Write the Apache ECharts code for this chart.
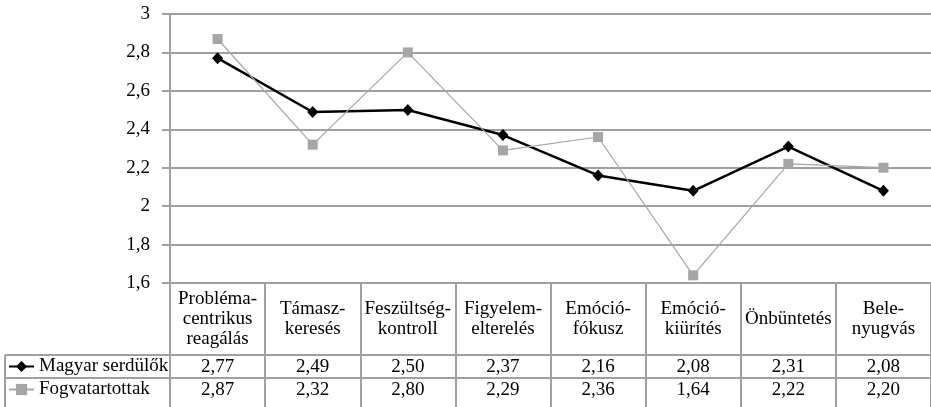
<!DOCTYPE html>
<html>
<head>
<meta charset="utf-8">
<script src="https://cdn.jsdelivr.net/npm/echarts@6/dist/echarts.min.js"></script>
<style>html,body{margin:0;padding:0;background:#fff;}#c{width:931px;height:407px;}</style>
</head>
<body>
<div id="c"></div>
<script>
const categories = ["Probléma-\ncentrikus\nreagálás", "Támasz-\nkeresés", "Feszültség-\nkontroll", "Figyelem-\nelterelés", "Emóció-\nfókusz", "Emóció-\nkiürítés", "Önbüntetés", "Bele-\nnyugvás"];
const seriesNames = ["Magyar serdülők", "Fogvatartottak"];
const magyar = [2.77, 2.49, 2.50, 2.37, 2.16, 2.08, 2.31, 2.08];
const fogva = [2.87, 2.32, 2.80, 2.29, 2.36, 1.64, 2.22, 2.20];
const yMin = 1.6, yMax = 3, yStep = 0.2;

const FONT = "'Liberation Serif', 'Times New Roman', serif";
const FS = 19;
const GRID_COLOR = '#a0a0a0';
const fmt2 = v => v.toFixed(2).replace('.', ',');
const fmtTick = v => String(Math.round(v * 10) / 10).replace('.', ',');

const chart = echarts.init(document.getElementById('c'), null, {renderer: 'canvas'});
const G = {left: 170, right: -1, top: 14, bottom: 124};

function valueAxis(values, margin) {
  return {
    type: 'category', data: categories, position: 'bottom', gridIndex: 0,
    axisLine: {show: false}, axisTick: {show: false}, splitLine: {show: false},
    axisLabel: {
      interval: 0, margin: margin, verticalAlign: 'middle',
      fontFamily: FONT, fontSize: FS, color: '#000',
      formatter: (v, i) => fmt2(values[i])
    }
  };
}

function legendRow(name, top) {
  return {
    orient: 'horizontal', left: 8, top: top, padding: 0,
    itemWidth: 25, itemHeight: 14, itemGap: 0,
    textStyle: {fontFamily: FONT, fontSize: FS, color: '#000', lineHeight: 19},
    data: [name]
  };
}

chart.setOption({
  animation: false,
  grid: {left: G.left, right: G.right, top: G.top, bottom: G.bottom, containLabel: false},
  legend: [legendRow(seriesNames[0], 357), legendRow(seriesNames[1], 380)],
  xAxis: [
    {
      type: 'category', data: categories, boundaryGap: true, position: 'bottom',
      axisLine: {show: true, lineStyle: {color: GRID_COLOR, width: 2}},
      axisTick: {show: true, length: 130, lineStyle: {color: GRID_COLOR, width: 2}},
      axisLabel: {interval: 0, margin: 36, verticalAlign: 'middle', lineHeight: 20,
        fontFamily: FONT, fontSize: FS, color: '#000', align: 'center'}
    },
    valueAxis(magyar, 84),
    valueAxis(fogva, 107)
  ],
  yAxis: {
    type: 'value', min: yMin, max: yMax, interval: yStep,
    axisLine: {show: true, lineStyle: {color: GRID_COLOR, width: 2}},
    axisTick: {show: true, length: 8, lineStyle: {color: GRID_COLOR, width: 2}},
    splitLine: {show: true, lineStyle: {color: GRID_COLOR, width: 2}},
    axisLabel: {margin: 20, fontFamily: FONT, fontSize: FS, color: '#000', formatter: fmtTick}
  },
  series: [
    {
      name: seriesNames[0], type: 'line', data: magyar,
      symbol: 'diamond', symbolSize: [11, 12],
      lineStyle: {color: '#000', width: 2.5},
      itemStyle: {color: '#000'}
    },
    {
      name: seriesNames[1], type: 'line', data: fogva,
      symbol: 'rect', symbolSize: 10,
      lineStyle: {color: '#a6a6a6', width: 1.2},
      itemStyle: {color: '#a6a6a6'}
    }
  ],
  graphic: [
    {type: 'line', shape: {x1: 5, y1: 355, x2: 931, y2: 355}, style: {stroke: GRID_COLOR, lineWidth: 2}, silent: true},
    {type: 'line', shape: {x1: 5, y1: 378, x2: 931, y2: 378}, style: {stroke: GRID_COLOR, lineWidth: 2}, silent: true},
    {type: 'line', shape: {x1: 5, y1: 355, x2: 5, y2: 410}, style: {stroke: GRID_COLOR, lineWidth: 2}, silent: true}
  ]
});
</script>
</body>
</html>
